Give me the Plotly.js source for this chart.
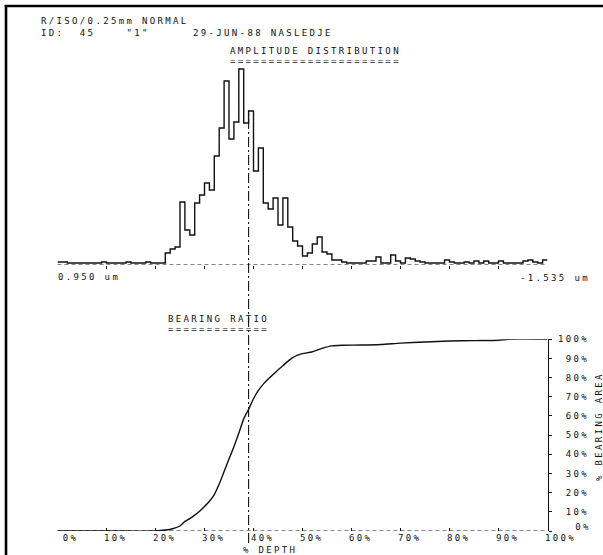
<!DOCTYPE html>
<html><head><meta charset="utf-8">
<script src="https://cdn.plot.ly/plotly-3.0.1.min.js"></script>
<style>
html,body{margin:0;padding:0;background:#fff;}
#chart{width:603px;height:555px;}
svg text{letter-spacing:2.35px;}
</style></head><body><div id="chart"></div>
<script>
// ---- data ----
// amplitude distribution: 100 depth bins (1 % each), relative counts
const depthBins = [0,1,2,3,4,5,6,7,8,9,10,11,12,13,14,15,16,17,18,19,20,21,22,23,24,25,26,27,28,29,30,31,32,33,34,35,36,37,38,39,40,41,42,43,44,45,46,47,48,49,50,51,52,53,54,55,56,57,58,59,60,61,62,63,64,65,66,67,68,69,70,71,72,73,74,75,76,77,78,79,80,81,82,83,84,85,86,87,88,89,90,91,92,93,94,95,96,97,98,99];
const amplitudeCounts = [1,1,0,0,0,0,0,0,0,1,0,0,0,0,1,0,0,0,1,0,0,0,
  10,14,16,61,33,28,60,68,80,73,107,135,182,124,141,194,140,152,92,115,60,54,65,38,65,36,22,17,7,10,19,26,11,9,3,3,1,
  0,0,0,0,2,2,6,0,0,8,2,0,5,4,2,1,0,0,0,0,3,1,0,0,1,0,2,0,2,0,0,2,0,0,0,0,2,3,1,0,3];
// bearing ratio curve
const bearingDepth = [0,10,20,22,23.5,25,26,27,28,29,30,31,32,33,34,35,36,37,38,39,40,41,42,43,44,45,46,47,48,49,50,52,54,56,58,62,66,70,75,80,85,90,92,100];
const bearingRatio = [0,0,0,0.5,1.2,2.6,5,6.5,8.3,10.3,12.8,15.5,19,24.5,31,37.5,44,51,58.5,63.5,69,73.3,76.6,79.3,81.6,84,86.2,88.5,90.4,91.7,92.5,93.5,95.3,96.6,96.9,97,97.3,98,98.6,99.1,99.3,99.5,100,100];
const meanDepth = 39;
// tick labels
const depthTicks = [0,10,20,30,40,50,60,70,80,90,100];
const depthTickText = ['\u00a00%\u00a0','10%\u00a0','20%\u00a0','30%\u00a0','40%\u00a0','50%\u00a0','60%\u00a0','70%\u00a0','80%\u00a0','90%\u00a0','100%'];
const areaTicks = [10,20,30,40,50,60,70,80,90,100];
const areaTickText = ['\u00a010%','\u00a020%','\u00a030%','\u00a040%','\u00a050%','\u00a060%','\u00a070%','\u00a080%','\u00a090%','100%'];
const areaZeroTick = [0];
const areaZeroText = ['0%'];
const baseTicks = [10,20,30,40,50,60,70,80,90];
// texts
const header1 = 'R/ISO/0.25mm NORMAL';
const header2 = 'ID:\u00a0\u00a045\u00a0\u00a0\u00a0\u00a0"1"';
const header3 = '29-JUN-88 NASLEDJE';
const title1 = 'AMPLITUDE DISTRIBUTION';
const title2 = 'BEARING RATIO';
const leftLabel = '0.950 um';
const rightLabel = '-1.535 um';
const xTitle = '% DEPTH';
const yTitle = '% BEARING AREA';

// ---- layout helpers ----
const W = 603, H = 555;
const px = v => v / W;
const py = v => 1 - v / H;
const FONT = {family: 'DejaVu Sans Mono, Liberation Mono, monospace', size: 9, color: '#111'};
const INK = '#111';

const histX = depthBins.concat([100]);
const histY = amplitudeCounts.concat([amplitudeCounts[amplitudeCounts.length - 1]]);

const traces = [
  {x: histX, y: histY, xaxis: 'x', yaxis: 'y', mode: 'lines',
   line: {shape: 'hv', color: INK, width: 1.4}, hoverinfo: 'skip'},
  {x: bearingDepth, y: bearingRatio, xaxis: 'x2', yaxis: 'y2', mode: 'lines',
   line: {color: INK, width: 1.4, shape: 'spline', smoothing: 0.6}, hoverinfo: 'skip'},
  // empty trace so the overlaying axis carrying the "0%" label is drawn
  {x: [], y: [], xaxis: 'x2', yaxis: 'y3', mode: 'lines', hoverinfo: 'skip'}
];

function ann(text, x, y, extra) {
  return Object.assign({text: text, x: x, y: y, xref: 'paper', yref: 'paper',
    xanchor: 'left', yanchor: 'middle', showarrow: false, font: FONT, borderpad: 0, align: 'left'}, extra || {});
}

const layout = {
  width: W, height: H,
  margin: {l: 0, r: 0, t: 0, b: 0},
  paper_bgcolor: '#fff', plot_bgcolor: 'rgba(0,0,0,0)',
  showlegend: false,
  font: FONT,
  xaxis: {domain: [px(57.5), px(547.5)], range: [0, 100], anchor: 'y',
    showgrid: false, zeroline: false, showline: false,
    tickvals: baseTicks, ticks: 'outside', ticklen: 3, tickwidth: 1, tickcolor: INK,
    showticklabels: false},
  yaxis: {domain: [py(265), py(63)], range: [-2, 200], anchor: 'x',
    visible: false},
  xaxis2: {domain: [px(57.5), px(547.5)], range: [0, 100], anchor: 'y2',
    showgrid: false, zeroline: false, showline: false,
    tickvals: depthTicks, ticktext: depthTickText,
    ticks: 'inside', ticklen: 3, tickwidth: 1, tickcolor: INK,
    ticklabelshift: 13, ticklabelstandoff: 0, tickfont: FONT},
  yaxis2: {domain: [py(531), py(339.3)], range: [0, 100], anchor: 'x2', side: 'right',
    showgrid: false, zeroline: false, showline: true, linecolor: INK, linewidth: 1.6,
    tickvals: areaTicks, ticktext: areaTickText,
    ticks: 'outside', ticklen: 3, tickwidth: 1, tickcolor: INK,
    ticklabelstandoff: 4, tickfont: FONT},
  yaxis3: {domain: [py(531), py(339.3)], range: [0, 100], anchor: 'x2', side: 'right', overlaying: 'y2',
    showgrid: false, zeroline: false, showline: false,
    tickvals: areaZeroTick, ticktext: areaZeroText,
    ticks: 'outside', ticklen: 3, tickwidth: 1, tickcolor: INK,
    ticklabelstandoff: 22, ticklabelshift: -4, tickfont: FONT},
  shapes: [
    // frame (left and top)
    {type: 'line', xref: 'paper', yref: 'paper', x0: px(6), x1: px(6), y0: 0, y1: py(5), line: {color: '#000', width: 2.6}},
    {type: 'line', xref: 'paper', yref: 'paper', x0: px(4.7), x1: 1, y0: py(6), y1: py(6), line: {color: '#000', width: 2.6}},
    // dashed baselines
    {type: 'line', xref: 'x domain', yref: 'y', x0: 0, x1: 1, y0: -2, y1: -2, line: {color: INK, width: 1, dash: '4px,3px'}},
    {type: 'line', xref: 'x2 domain', yref: 'y2', x0: 0, x1: 1, y0: 0, y1: 0, line: {color: INK, width: 1, dash: '4px,3px'}},
    // mean depth dash-dot line
    {type: 'line', xref: 'x', yref: 'paper', x0: meanDepth, x1: meanDepth, y0: py(543), y1: py(110), line: {color: INK, width: 1.1, dash: '10px,3px,2px,3px'}}
  ],
  annotations: [
    ann(header1 + '<br>' + header2, px(40), py(27.2)),
    ann(header3, px(192), py(32.6)),
    ann(title1, px(229), py(51.5)),
    ann('='.repeat(title1.length), px(229), py(61.5)),
    ann(leftLabel, px(57), py(276.5)),
    ann(rightLabel, px(519), py(277.5)),
    ann(title2, px(167), py(318.5)),
    ann('='.repeat(title2.length), px(167), py(328.5)),
    ann(xTitle, px(242), py(549.5)),
    ann(yTitle, px(599), py(427), {textangle: -90, xanchor: 'center'})
  ]
};

Plotly.newPlot('chart', traces, layout, {displayModeBar: false, staticPlot: true});
</script></body></html>
